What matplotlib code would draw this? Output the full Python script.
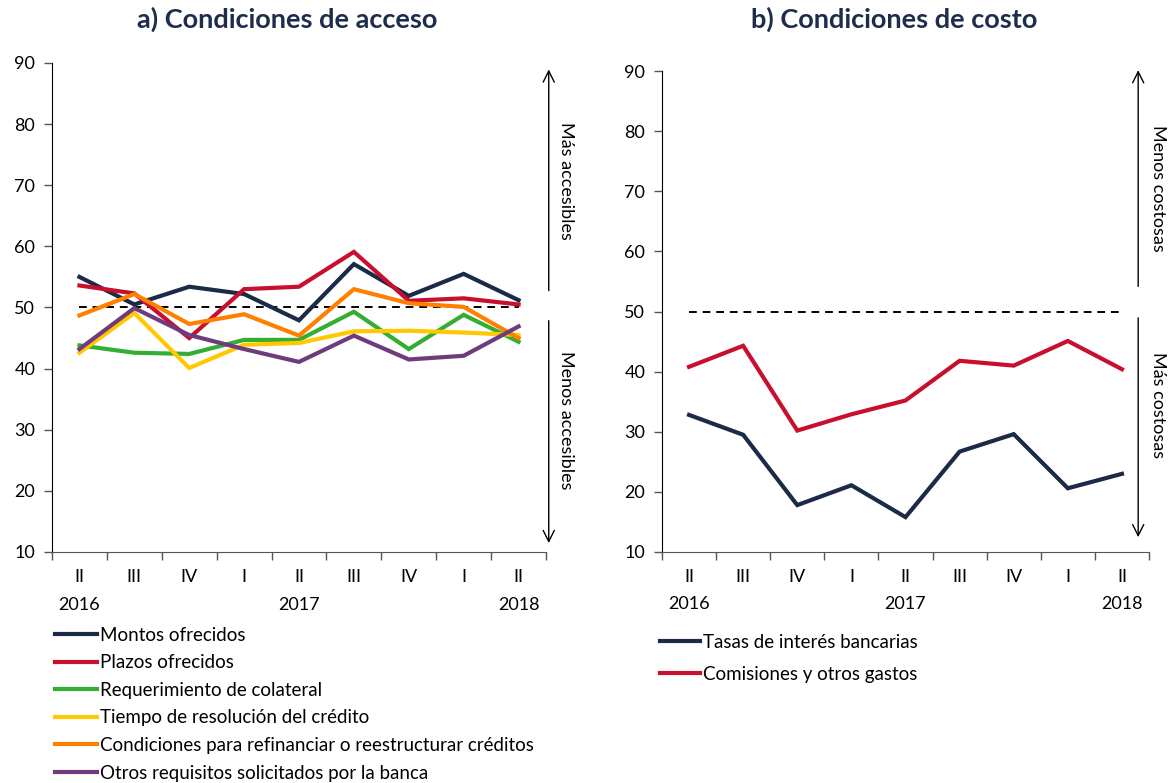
import numpy as np, matplotlib; matplotlib.use("Agg")
import matplotlib.pyplot as plt
from matplotlib.transforms import blended_transform_factory as btf

plt.rcParams['font.family'] = ['Lato', 'DejaVu Sans']

quarters = ['II', 'III', 'IV', 'I', 'II', 'III', 'IV', 'I', 'II']
years = {0: '2016', 4: '2017', 8: '2018'}

# a) access conditions
montos = [55.0, 50.5, 53.4, 52.2, 47.9, 57.1, 51.9, 55.5, 51.2]
plazos = [53.6, 52.3, 45.0, 53.0, 53.4, 59.1, 51.1, 51.5, 50.5]
colateral = [43.8, 42.6, 42.4, 44.7, 44.7, 49.3, 43.2, 48.8, 44.4]
tiempo = [42.6, 49.1, 40.1, 43.9, 44.2, 46.1, 46.2, 45.9, 45.5]
refin = [48.7, 52.2, 47.3, 48.9, 45.4, 53.0, 50.7, 50.1, 45.0]
otros = [43.2, 49.9, 45.5, 43.2, 41.1, 45.4, 41.5, 42.1, 46.9]
# b) cost conditions
tasas = [32.8, 29.5, 17.8, 21.1, 15.8, 26.7, 29.6, 20.6, 23.0]
comis = [40.8, 44.3, 30.2, 32.9, 35.2, 41.8, 41.0, 45.1, 40.4]
umbral = 50

NAVY, RED, GREEN, YEL, ORA, PUR = '#1B2A47', '#C8102E', '#33AE33', '#FFC800', '#FF7F00', '#6E3B7C'
series_a = [(montos, 'Montos ofrecidos', NAVY), (plazos, 'Plazos ofrecidos', RED),
            (colateral, 'Requerimiento de colateral', GREEN), (tiempo, 'Tiempo de resolución del crédito', YEL),
            (refin, 'Condiciones para refinanciar o reestructurar créditos', ORA),
            (otros, 'Otros requisitos solicitados por la banca', PUR)]
series_b = [(tasas, 'Tasas de interés bancarias', NAVY), (comis, 'Comisiones y otros gastos', RED)]

W, H = 1170, 783
fig = plt.figure(figsize=(W/100, H/100), dpi=100)
axA = fig.add_axes([52/W, 1-552/H, (546-52)/W, (552-63)/H])
axB = fig.add_axes([662/W, 1-552/H, (1149-662)/W, (552-71)/H])
FS = 13
LFS = 13.5
x = np.arange(len(quarters))

def style(ax, title):
    ax.set_xlim(-0.5, len(quarters)-0.5); ax.set_ylim(10, 90)
    ax.set_yticks(range(10, 91, 10))
    ax.set_xticks(x); ax.set_xticklabels(quarters, fontsize=FS)
    ax.set_xticks(np.arange(-0.5, len(quarters)), minor=True)
    ax.tick_params(axis='x', which='major', length=0, pad=12)
    ax.tick_params(axis='x', which='minor', length=6, width=1, color='#555555')
    ax.tick_params(axis='y', length=6, width=1, labelsize=FS, pad=6, color='#555555')
    for sp in ['top', 'right']: ax.spines[sp].set_visible(False)
    ax.spines['bottom'].set_color('#555555'); ax.spines['left'].set_color('black')
    tr = btf(ax.transData, ax.transAxes)
    for i, yv in years.items():
        ax.text(i, -0.108, yv, transform=tr, ha='center', va='center', fontsize=FS)
    ax.plot([0, len(quarters)-1], [umbral, umbral], ls=(0, (4, 3)), color='black', lw=1.4, zorder=1)
    fig.text(ax.get_position().x0 + ax.get_position().width/2 - 0.01, 1-19/H, title, ha='center', va='center',
             fontsize=19.5, fontweight='bold', color='#1F2D4D')

style(axA, 'a) Condiciones de acceso')
style(axB, 'b) Condiciones de costo')

for vals, lab, c in series_a:
    axA.plot(x, vals, color=c, lw=3, label=lab, solid_joinstyle='miter')
for vals, lab, c in series_b:
    axB.plot(x, vals, color=c, lw=3, label=lab, solid_joinstyle='miter')

def arrows(ax, xa, top, up_end, lo_start, bottom, t_up, t_lo, xt, yu, yl):
    kw = dict(arrowstyle='->', color='black', lw=1, mutation_scale=20)
    ax.annotate('', xy=(xa, top), xytext=(xa, up_end), arrowprops=kw, annotation_clip=False)
    ax.annotate('', xy=(xa, bottom), xytext=(xa, lo_start), arrowprops=kw, annotation_clip=False)
    ax.text(xt, yu, t_up, rotation=-90, ha='center', va='center', fontsize=FS, clip_on=False)
    ax.text(xt, yl, t_lo, rotation=-90, ha='center', va='center', fontsize=FS, clip_on=False)

arrows(axA, 8.55, 89.4, 52.3, 48.3, 11.0, 'Más accesibles', 'Menos accesibles', 8.86, 70.7, 31.6)
arrows(axB, 8.3, 90.6, 53.7, 49.4, 12.0, 'Menos costosas', 'Más costosas', 8.67, 70.5, 34.5)

axA.legend(loc='upper left', bbox_to_anchor=(55/W, 1-627/H), bbox_transform=fig.transFigure, frameon=False,
           fontsize=LFS, handlelength=2.25, handletextpad=0.16, labelspacing=0.56, borderpad=0, borderaxespad=0)
axB.legend(loc='upper left', bbox_to_anchor=(660/W, 1-634/H), bbox_transform=fig.transFigure, frameon=False,
           fontsize=LFS, handlelength=2.15, handletextpad=0.16, labelspacing=0.78, borderpad=0, borderaxespad=0)

fig.savefig('out.png', dpi=100)
